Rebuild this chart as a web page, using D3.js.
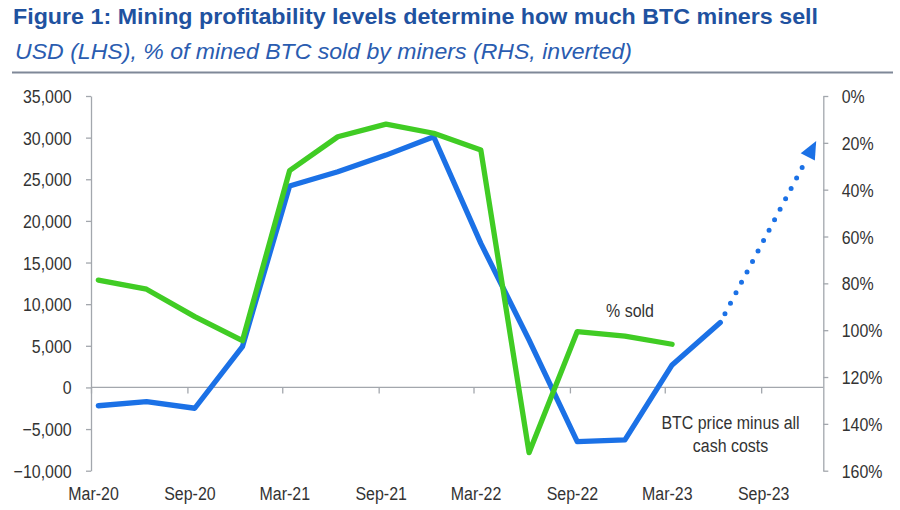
<!DOCTYPE html>
<html><head><meta charset="utf-8">
<script src="https://cdn.jsdelivr.net/npm/d3@7"></script>
<style>
body{margin:0;background:#fff}
svg{display:block}
text{font-family:"Liberation Sans",Arial,sans-serif}
</style></head>
<body><svg id="c" width="900" height="510"></svg>
<script>
const titleText = "Figure 1: Mining profitability levels determine how much BTC miners sell";
const subtitleText = "USD (LHS), % of mined BTC sold by miners (RHS, inverted)";
const quarters = ["2020-03","2020-06","2020-09","2020-12","2021-03","2021-06","2021-09","2021-12","2022-03","2022-06","2022-09","2022-12","2023-03","2023-06"];
const marginUSD = [-2200,-1700,-2500,4900,24200,25900,27900,30100,17300,5700,-6500,-6300,2700,7800];
const pctSold = [78.6,82.5,94.2,104.5,31.9,17.4,12.0,15.9,23.1,152.3,100.6,102.5,106.0];
const projQuarters = ["2023-06","2023-12"];
const projUSD = [7800,29600];
const leftTicks = [-10000,-5000,0,5000,10000,15000,20000,25000,30000,35000];
const rightTicks = [0,20,40,60,80,100,120,140,160];
const xTickLabels = ["Mar-20","Sep-20","Mar-21","Sep-21","Mar-22","Sep-22","Mar-23","Sep-23"];
const pctLabel = "% sold";
const usdLabel = ["BTC price minus all","cash costs"];

const BLUE = "#1B71E6", GREEN = "#40CC24", AXIS = "#A3A7AD", TXT = "#333333";
const SX = 0.84;

const svg = d3.select("#c");
const parseQ = d3.timeParse("%Y-%m");
const mid = s => d3.timeDay.offset(parseQ(s), 14);
const parseTick = d3.timeParse("%b-%y");

const x = d3.scaleTime().domain([new Date(2020,2,1), new Date(2023,11,28)]).range([91, 823]);
const yL = d3.scaleLinear().domain([-10000, 35000]).range([470.7, 96]);
const yR = d3.scaleLinear().domain([0, 160]).range([96, 470.7]);

// title
svg.append("text").attr("x", 13).attr("y", 23.5)
  .attr("fill", "#1F52A0").attr("font-size", 22.5).attr("font-weight", "bold")
  .attr("textLength", 805).attr("lengthAdjust", "spacingAndGlyphs").text(titleText);
svg.append("text").attr("x", 15).attr("y", 59)
  .attr("fill", "#2A5CB0").attr("font-size", 21.5).attr("font-style", "italic")
  .attr("textLength", 617).attr("lengthAdjust", "spacingAndGlyphs").text(subtitleText);
svg.append("line").attr("x1", 12).attr("x2", 893).attr("y1", 72.5).attr("y2", 72.5)
  .attr("stroke", "#7F8898").attr("stroke-width", 2);

function styleAxis(g){
  g.select(".domain").attr("stroke", AXIS).attr("stroke-width", 1.3);
  g.selectAll(".tick line").attr("stroke", AXIS).attr("stroke-width", 1.3);
  g.selectAll(".tick text").attr("fill", TXT).attr("font-size", 19).attr("font-family", "Liberation Sans, Arial, sans-serif");
}

// left axis
const gL = svg.append("g").attr("transform", "translate(91,0)")
  .call(d3.axisLeft(yL).tickValues(leftTicks).tickFormat(d3.format(",")).tickSize(5).tickSizeOuter(0));
styleAxis(gL);
gL.selectAll(".tick text").attr("x", null).attr("dy", null)
  .attr("transform", `translate(-19.3,6.5) scale(${SX},1)`).attr("text-anchor", "end");

// right axis
const gR = svg.append("g").attr("transform", "translate(823.3,0)")
  .call(d3.axisRight(yR).tickValues(rightTicks).tickFormat(d => d + "%").tickSize(5).tickSizeOuter(0));
styleAxis(gR);
gR.selectAll(".tick text").attr("x", null).attr("dy", null)
  .attr("transform", `translate(18.4,6.5) scale(${SX},1)`).attr("text-anchor", "start");

// x axis at zero
const y0 = yL(0);
const gX = svg.append("g").attr("transform", `translate(0,${y0})`)
  .call(d3.axisBottom(x).tickValues(xTickLabels.map(parseTick)).tickFormat((d,i) => xTickLabels[i]).tickSize(6).tickSizeOuter(0));
gX.select(".domain").attr("stroke", AXIS).attr("stroke-width", 1.3).attr("d", `M91,0H823.3`);
gX.selectAll(".tick line").attr("stroke", AXIS).attr("stroke-width", 1.3);
gX.selectAll(".tick text").attr("fill", TXT).attr("font-size", 19).attr("y", null).attr("dy", null)
  .attr("transform", `translate(2,${500 - y0}) scale(${SX},1)`).attr("text-anchor", "middle");

// lines
const lineUSD = d3.line().x((d,i) => x(mid(quarters[i]))).y(d => yL(d));
const linePct = d3.line().x((d,i) => x(mid(quarters[i]))).y(d => yR(d));

svg.append("path").datum(marginUSD).attr("d", lineUSD)
  .attr("fill", "none").attr("stroke", BLUE).attr("stroke-width", 5.3)
  .attr("stroke-linejoin", "round").attr("stroke-linecap", "round");
svg.append("path").datum(pctSold).attr("d", linePct)
  .attr("fill", "none").attr("stroke", GREEN).attr("stroke-width", 5.3)
  .attr("stroke-linejoin", "round").attr("stroke-linecap", "round");

// projection (dotted with arrow)
const p0 = [x(mid(projQuarters[0])), yL(projUSD[0])];
const p1 = [x(mid(projQuarters[1])), yL(projUSD[1])];
const ang = Math.atan2(p1[1]-p0[1], p1[0]-p0[0]);
const aLen = 18, aHalf = 8;
const base = [p1[0] - aLen*Math.cos(ang), p1[1] - aLen*Math.sin(ang)];
const dotStart = [p0[0] + 10*Math.cos(ang), p0[1] + 10*Math.sin(ang)];
svg.append("line").attr("x1", dotStart[0]).attr("y1", dotStart[1])
  .attr("x2", base[0] - 2*Math.cos(ang)).attr("y2", base[1] - 2*Math.sin(ang))
  .attr("stroke", BLUE).attr("stroke-width", 5).attr("stroke-linecap", "round")
  .attr("stroke-dasharray", "0 11.8");
const perp = ang + Math.PI/2;
svg.append("polygon").attr("fill", BLUE).attr("points", [
  p1,
  [base[0] + aHalf*Math.cos(perp), base[1] + aHalf*Math.sin(perp)],
  [base[0] - aHalf*Math.cos(perp), base[1] - aHalf*Math.sin(perp)]
].map(p => p.join(",")).join(" "));

// series labels
function label(t, cx, by){
  svg.append("text").attr("fill", TXT).attr("font-size", 19).attr("text-anchor", "middle")
    .attr("transform", `translate(${cx},${by}) scale(${SX},1)`).text(t);
}
label(pctLabel, 630, 316.5);
label(usdLabel[0], 730.5, 428.5);
label(usdLabel[1], 730.5, 452);
</script></body></html>
